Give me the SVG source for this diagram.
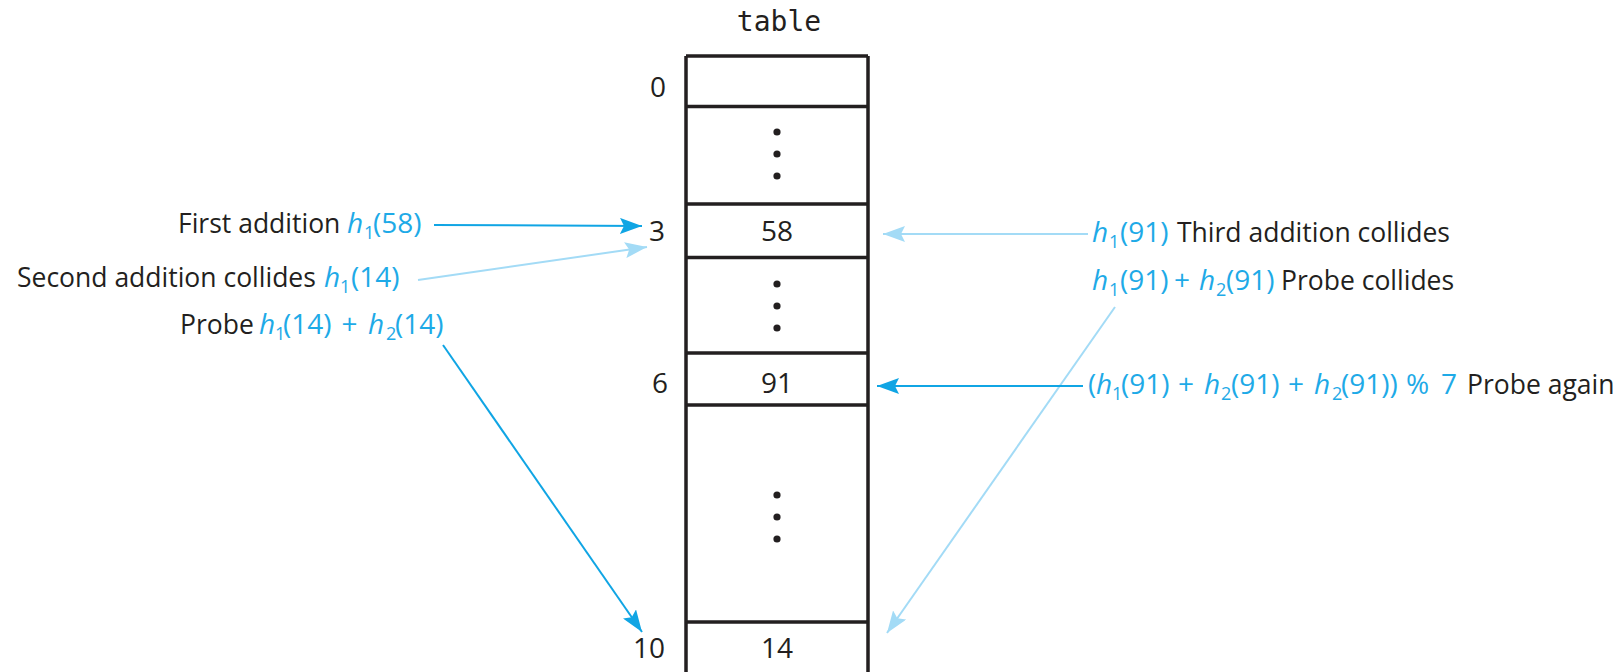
<svg xmlns="http://www.w3.org/2000/svg" width="1622" height="672" viewBox="0 0 1622 672">
  <style>
    .lbl { font-family: "Open Sans", "Liberation Sans", sans-serif; font-size: 26.5px; fill: #231f20; }
    .num { font-size: 28px; }
    .blue { fill: #1eaae7; font-size: 28px; }
    .it { font-style: italic; }
    .sub { font-size: 18px; }
    .mono { font-family: "DejaVu Sans Mono", "Liberation Mono", monospace; font-size: 28px; fill: #231f20; }
    .grid { stroke: #231f20; stroke-width: 3.5; fill: none; }
    .dot { fill: #231f20; }
    .bright { stroke: #10a5e4; stroke-width: 2; fill: none; }
    .light { stroke: #a3dbf6; stroke-width: 2; fill: none; }
  </style>
  <defs>
    <marker id="head-bright" viewBox="0 0 22 16" refX="22" refY="8" markerWidth="22" markerHeight="16" markerUnits="userSpaceOnUse" orient="auto">
      <path d="M0,0 L22,8 L0,16 L4,8 z" fill="#10a5e4"/>
    </marker>
    <marker id="head-light" viewBox="0 0 22 16" refX="22" refY="8" markerWidth="22" markerHeight="16" markerUnits="userSpaceOnUse" orient="auto">
      <path d="M0,0 L22,8 L0,16 L4,8 z" fill="#a3dbf6"/>
    </marker>
  </defs>

  <rect width="1622" height="672" fill="#ffffff"/>

  <!-- hash table array -->
  <g id="table">
    <text class="mono" x="779" y="31" text-anchor="middle">table</text>
    <path class="grid" d="M686,56 V680 M868,56 V680 M686,56 H868 M686,106.5 H868 M686,204 H868 M686,257.5 H868 M686,353 H868 M686,405 H868 M686,622 H868"/>
    <circle class="dot" cx="777" cy="132" r="3.6"/>
    <circle class="dot" cx="777" cy="154" r="3.6"/>
    <circle class="dot" cx="777" cy="176" r="3.6"/>
    <circle class="dot" cx="777" cy="284" r="3.6"/>
    <circle class="dot" cx="777" cy="306" r="3.6"/>
    <circle class="dot" cx="777" cy="328" r="3.6"/>
    <circle class="dot" cx="777" cy="495" r="3.6"/>
    <circle class="dot" cx="777" cy="517" r="3.6"/>
    <circle class="dot" cx="777" cy="539" r="3.6"/>
    <text class="lbl num" x="777" y="241" text-anchor="middle">58</text>
    <text class="lbl num" x="777" y="393" text-anchor="middle">91</text>
    <text class="lbl num" x="777" y="658" text-anchor="middle">14</text>
  </g>

  <!-- index labels -->
  <g id="indices">
    <text class="lbl num" x="666" y="97" text-anchor="end">0</text>
    <text class="lbl num" x="665" y="241" text-anchor="end">3</text>
    <text class="lbl num" x="668" y="393" text-anchor="end">6</text>
    <text class="lbl num" x="665" y="658" text-anchor="end">10</text>
  </g>

  <!-- insertion and probe labels -->
  <g id="label-first">
    <text class="lbl" x="178" y="233">First addition<tspan class="blue it" x="347">h</tspan><tspan class="blue sub" x="364" dy="6">1</tspan><tspan class="blue" x="373" dy="-6">(58)</tspan></text>
  </g>
  <g id="label-second">
    <text class="lbl" x="17" y="287">Second addition collides<tspan class="blue it" x="324">h</tspan><tspan class="blue sub" x="340" dy="6">1</tspan><tspan class="blue" x="351" dy="-6">(14)</tspan></text>
  </g>
  <g id="label-probe14">
    <text class="lbl" x="180" y="334">Probe<tspan class="blue it" x="259">h</tspan><tspan class="blue sub" x="275" dy="6">1</tspan><tspan class="blue" x="283" dy="-6">(14)</tspan><tspan class="blue" x="341.5">+</tspan><tspan class="blue it" x="368">h</tspan><tspan class="blue sub" x="386" dy="6">2</tspan><tspan class="blue" x="395" dy="-6">(14)</tspan></text>
  </g>
  <g id="label-third">
    <text class="lbl" y="242"><tspan class="blue it" x="1092">h</tspan><tspan class="blue sub" x="1109" dy="6">1</tspan><tspan class="blue" x="1120" dy="-6">(91)</tspan><tspan x="1177">Third addition collides</tspan></text>
  </g>
  <g id="label-probe91">
    <text class="lbl" y="290"><tspan class="blue it" x="1092">h</tspan><tspan class="blue sub" x="1109" dy="6">1</tspan><tspan class="blue" x="1120" dy="-6">(91)</tspan><tspan class="blue" x="1174">+</tspan><tspan class="blue it" x="1199">h</tspan><tspan class="blue sub" x="1216" dy="6">2</tspan><tspan class="blue" x="1226" dy="-6">(91)</tspan><tspan x="1281">Probe collides</tspan></text>
  </g>
  <g id="label-again">
    <text class="lbl" y="394"><tspan class="blue" x="1088">(</tspan><tspan class="blue it" x="1096">h</tspan><tspan class="blue sub" x="1112" dy="6">1</tspan><tspan class="blue" x="1121" dy="-6">(91)</tspan><tspan class="blue" x="1178">+</tspan><tspan class="blue it" x="1204">h</tspan><tspan class="blue sub" x="1221" dy="6">2</tspan><tspan class="blue" x="1231" dy="-6">(91)</tspan><tspan class="blue" x="1288">+</tspan><tspan class="blue it" x="1314">h</tspan><tspan class="blue sub" x="1332" dy="6">2</tspan><tspan class="blue" x="1341" dy="-6">(91))</tspan><tspan class="blue" x="1406">%</tspan><tspan class="blue" x="1441">7</tspan><tspan x="1467">Probe again</tspan></text>
  </g>

  <!-- connectors -->
  <g id="connectors">
    <line class="bright" x1="434" y1="225" x2="642" y2="226" marker-end="url(#head-bright)"/>
    <line class="light" x1="418" y1="280" x2="647" y2="247" marker-end="url(#head-light)"/>
    <line class="bright" x1="443" y1="345" x2="642" y2="632" marker-end="url(#head-bright)"/>
    <line class="light" x1="1088" y1="234" x2="883" y2="234" marker-end="url(#head-light)"/>
    <line class="light" x1="1115" y1="307" x2="887" y2="633" marker-end="url(#head-light)"/>
    <line class="bright" x1="1083" y1="386" x2="877" y2="386" marker-end="url(#head-bright)"/>
  </g>
</svg>
